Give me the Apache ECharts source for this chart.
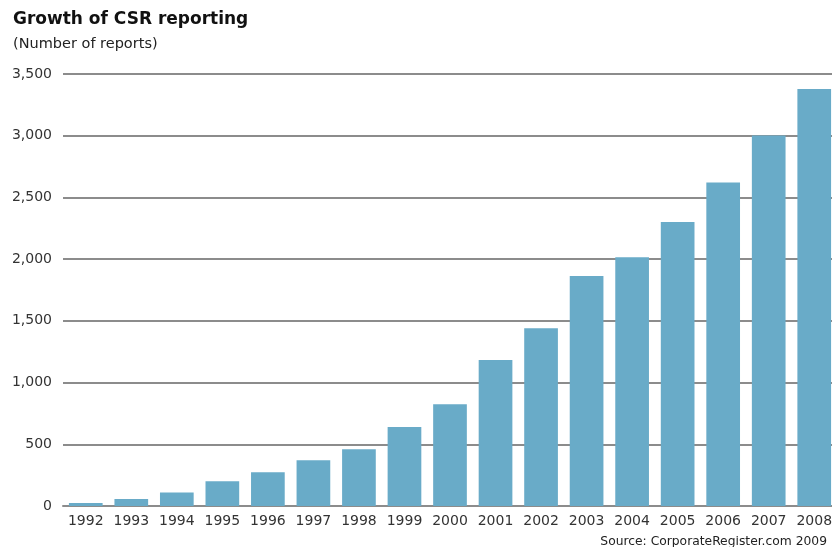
<!DOCTYPE html>
<html>
<head>
<meta charset="utf-8">
<script src="https://cdn.jsdelivr.net/npm/echarts@6/dist/echarts.min.js"></script>
<style>
  html, body { margin: 0; padding: 0; background: #fff; }
  #chart { width: 832px; height: 547px; }
</style>
</head>
<body>
<div id="chart"></div>
<script>
// Annual count of published CSR reports
const years = ['1992','1993','1994','1995','1996','1997','1998','1999','2000',
               '2001','2002','2003','2004','2005','2006','2007','2008'];
const reports = [25, 57, 110, 200, 273, 370, 459, 640, 824,
                 1183, 1440, 1864, 2015, 2301, 2620, 3001, 3379];
const yTicks = { min: 0, max: 3500, step: 500 };

const chart = echarts.init(document.getElementById('chart'));
const font = 'DejaVu Sans, Verdana, sans-serif';

chart.setOption({
  animation: false,
  backgroundColor: '#ffffff',
  title: [
    {
      text: 'Growth of CSR reporting',
      left: 8, top: 6,
      textStyle: { fontFamily: font, fontSize: 17, fontWeight: 'bold', color: '#111' }
    },
    {
      text: '(Number of reports)',
      left: 8, top: 32,
      textStyle: { fontFamily: font, fontSize: 14.5, fontWeight: 'normal', color: '#222' }
    },
    {
      text: 'Source: CorporateRegister.com 2009',
      right: 0, top: 531,
      textStyle: { fontFamily: font, fontSize: 12.3, fontWeight: 'normal', color: '#222' }
    }
  ],
  // the plot runs slightly past the right edge, so the last bar is cut off
  grid: { left: 63, top: 74, width: 774, height: 432, containLabel: false, outerBoundsMode: 'none' },
  xAxis: {
    type: 'category',
    data: years,
    axisLine: { show: true, lineStyle: { color: '#8c8c8c', width: 2 } },
    axisTick: { show: false },
    axisLabel: { interval: 0, fontFamily: font, fontSize: 14, color: '#333', margin: 8 }
  },
  yAxis: {
    type: 'value',
    min: yTicks.min, max: yTicks.max, interval: yTicks.step,
    axisLine: { show: false },
    axisTick: { show: false },
    axisLabel: {
      fontFamily: font, fontSize: 14, color: '#333', margin: 11,
      formatter: v => v.toLocaleString('en-US')
    },
    splitLine: { show: true, lineStyle: { color: '#8c8c8c', width: 2 } }
  },
  series: [{
    type: 'bar',
    data: reports,
    barCategoryGap: '26%',
    itemStyle: { color: '#69abc8' }
  }]
});
</script>
</body>
</html>
